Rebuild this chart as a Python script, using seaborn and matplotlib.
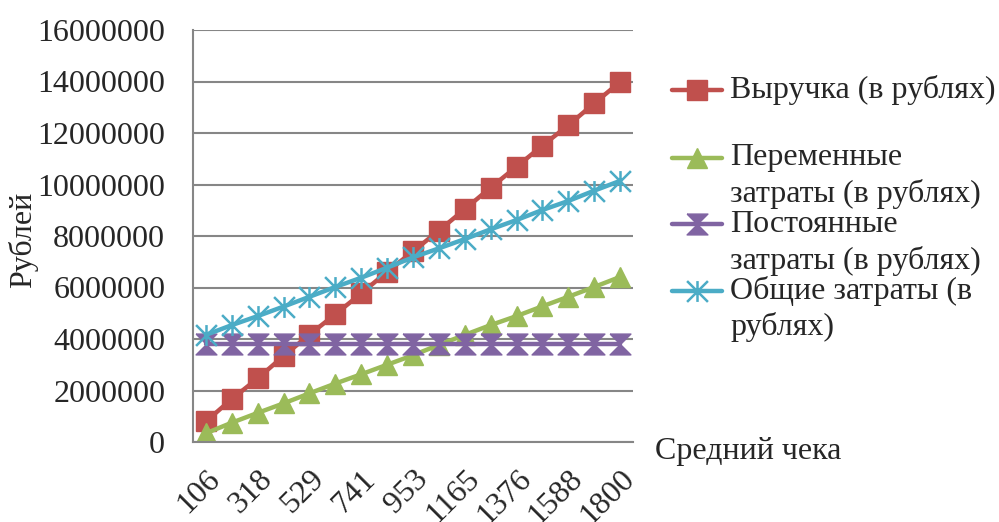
import numpy as np
import pandas as pd
import matplotlib.pyplot as plt
import seaborn as sns
from matplotlib.lines import Line2D
from matplotlib.path import Path
from matplotlib.ticker import FuncFormatter

# Data
prices = ['106', '212', '318', '424', '529', '635', '741', '847', '953',
          '1059', '1165', '1271', '1376', '1482', '1588', '1694', '1800']
revenue = [800000, 1670000, 2470000, 3340000, 4170000, 4960000, 5770000, 6610000, 7400000,
           8210000, 9040000, 9880000, 10690000, 11510000, 12300000, 13150000, 13980000]
variable_costs = [340000, 750000, 1130000, 1500000, 1890000, 2270000, 2630000, 3000000, 3370000,
                  3770000, 4160000, 4540000, 4890000, 5270000, 5640000, 6020000, 6410000]
fixed_costs = [3800000, 3800000, 3800000, 3800000, 3800000, 3800000, 3800000, 3800000, 3800000,
               3800000, 3800000, 3800000, 3800000, 3800000, 3800000, 3800000, 3800000]
total_costs = [4160000, 4540000, 4890000, 5260000, 5640000, 6020000, 6380000, 6770000, 7170000,
               7520000, 7880000, 8260000, 8620000, 9010000, 9360000, 9760000, 10140000]
y_ticks = [0, 2000000, 4000000, 6000000, 8000000, 10000000, 12000000, 14000000, 16000000]

df = pd.DataFrame({'price': prices, 'revenue': revenue, 'variable': variable_costs,
                   'fixed': fixed_costs, 'total': total_costs})

sns.set_style("white")
plt.rcParams['font.family'] = ['Liberation Serif', 'DejaVu Serif']
FS = 23

# custom markers (Excel-like)
hourglass = [(-1, 1), (1, 1), (-1, -1), (1, -1), (-1, 1)]
star = Path([(-1, -1), (1, 1), (-1, 1), (1, -1), (0, -1), (0, 1)],
            [Path.MOVETO, Path.LINETO, Path.MOVETO, Path.LINETO, Path.MOVETO, Path.LINETO])

series = [
    ('revenue', 'Выручка (в рублях)', '#C0504D', 's', 14, 1),
    ('variable', 'Переменные\nзатраты (в рублях)', '#9BBB59', '^', 15, 1),
    ('fixed', 'Постоянные\nзатраты (в рублях)', '#8064A2', hourglass, 15, 1),
    ('total', 'Общие затраты (в\nрублях)', '#4BACC6', star, 15, 1.8),
]

fig = plt.figure(figsize=(9.99, 5.22), dpi=100)
ax = fig.add_axes([193 / 999, 1 - 442 / 522, 440 / 999, 412 / 522])

for col, label, color, marker, ms, mew in series:
    sns.lineplot(data=df, x='price', y=col, ax=ax, color=color, linewidth=3.2,
                 marker=marker, markersize=ms, markeredgecolor=color,
                 markeredgewidth=mew, sort=False)

ax.set_xlim(-0.5, len(prices) - 0.5)
ax.set_ylim(0, 16000000)
ax.set_yticks(y_ticks)
ax.yaxis.set_major_formatter(FuncFormatter(lambda v, p: f"{int(v)}"))
ax.yaxis.grid(True, color='#868686', linewidth=1.5)
ax.xaxis.grid(False)

major = list(range(0, len(prices), 2))
ax.set_xticks(major)
ax.set_xticklabels([prices[i] for i in major], rotation=45, ha='right',
                   va='top', rotation_mode='anchor')
ax.set_xticks(np.arange(-0.5, len(prices), 1), minor=True)
ax.tick_params(axis='x', which='major', length=0, pad=16, labelsize=FS)
ax.tick_params(axis='x', which='minor', length=8, width=1.5, color='#868686', direction='out')
ax.tick_params(axis='y', length=8, width=1.5, color='#868686', direction='out',
               pad=12, labelsize=FS)

for side in ['top', 'right']:
    ax.spines[side].set_visible(False)
for side in ['left', 'bottom']:
    ax.spines[side].set_color('#868686')
    ax.spines[side].set_linewidth(1.5)
ax.set_xlabel('')
ax.set_ylabel('')

fig.text(23 / 999, 1 - 240 / 522, 'Рублей', rotation=90, ha='center', va='center', fontsize=FS)
fig.text(655 / 999, 1 - 452 / 522, 'Средний чека', ha='left', va='center', fontsize=FS)

# legend drawn by hand so the handle sits next to the first text line
legend_rows = [90, 158, 224, 291]
for (col, label, color, marker, ms, mew), y in zip(series, legend_rows):
    yf = 1 - y / 522
    fig.add_artist(Line2D([672 / 999, 697 / 999, 722 / 999], [yf, yf, yf],
                          transform=fig.transFigure, color=color, linewidth=3.2,
                          marker=marker, markersize=ms, markeredgecolor=color,
                          markeredgewidth=mew, markevery=[1]))
    for i, line in enumerate(label.split('\n')):
        fig.text(730 / 999, 1 - (y + i * 36.5) / 522, line, ha='left', va='center', fontsize=FS)

fig.savefig('out.png', dpi=100)
